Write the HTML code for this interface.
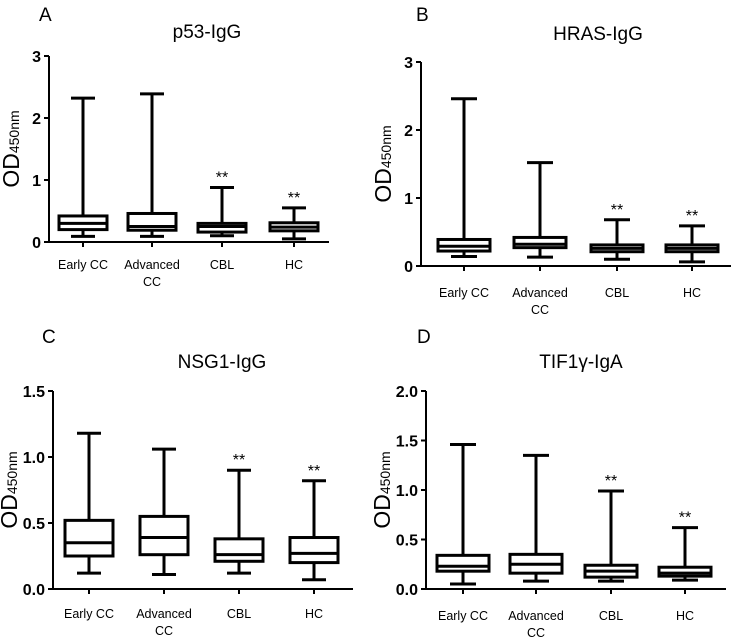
<!DOCTYPE html>
<html><head><meta charset="utf-8"><style>
body{margin:0;background:#fff}
svg text{font-family:"Liberation Sans",sans-serif}
</style></head><body>
<svg id="c" width="736" height="639"></svg>
<script>
const categories=["Early CC","Advanced CC","CBL","HC"];
const starFlags=[false,false,true,true];
const panelLetters=["A","B","C","D"];
const panelTitles=["p53-IgG","HRAS-IgG","NSG1-IgG","TIF1γ-IgA"];
const yTicksA=[0,1,2,3];
const yTicksB=[0,1,2,3];
const yTicksC=["0.0","0.5","1.0","1.5"];
const yTicksD=["0.0","0.5","1.0","1.5","2.0"];
// [min,q1,median,q3,max]
const boxA=[[0.09,0.2,0.3,0.42,2.32],[0.09,0.19,0.25,0.46,2.39],[0.1,0.16,0.25,0.3,0.88],[0.05,0.18,0.24,0.31,0.55]];
const boxB=[[0.14,0.22,0.29,0.39,2.46],[0.13,0.27,0.32,0.42,1.52],[0.1,0.21,0.26,0.31,0.68],[0.06,0.21,0.26,0.31,0.59]];
const boxC=[[0.12,0.25,0.35,0.52,1.18],[0.11,0.26,0.39,0.55,1.06],[0.12,0.21,0.26,0.38,0.9],[0.07,0.2,0.27,0.39,0.82]];
const boxD=[[0.05,0.18,0.23,0.34,1.46],[0.08,0.16,0.25,0.35,1.35],[0.08,0.12,0.18,0.24,0.99],[0.09,0.13,0.16,0.22,0.62]];

const svg=document.getElementById('c');
const NS="http://www.w3.org/2000/svg";
function mk(tag,attrs,parent){const e=document.createElementNS(NS,tag);for(const k in attrs)e.setAttribute(k,attrs[k]);(parent||svg).appendChild(e);return e;}

const panels=[
 {ax:49,y0:242,yTop:56,xEnd:329,yMax:3,centers:[83,152,222,294],half:24,ticks:yTicksA,data:boxA,lx:39,ly:21,tx:207,ty:38,labY:269},
 {ax:421,y0:266,yTop:62,xEnd:731,yMax:3,centers:[464,540,617,692],half:26,ticks:yTicksB,data:boxB,lx:416,ly:21,tx:598,ty:40,labY:297},
 {ax:53,y0:589,yTop:391,xEnd:353,yMax:1.5,centers:[89,164,239,314],half:24,ticks:yTicksC,data:boxC,lx:42,ly:343,tx:222,ty:368,labY:618},
 {ax:426,y0:589,yTop:391,xEnd:726,yMax:2,centers:[463,536,611,685],half:26,ticks:yTicksD,data:boxD,lx:417,ly:343,tx:581,ty:368,labY:620}
];

panels.forEach((p,pi)=>{
 const g=mk('g',{});
 
 
 const y=v=>p.y0-(v/p.yMax)*(p.y0-p.yTop);
 const L=mk('text',{x:p.lx,y:p.ly,'font-size':19},g);L.textContent=panelLetters[pi];
 
 
 const T=mk('text',{x:p.tx,y:p.ty,'font-size':19,'text-anchor':'middle'},g);T.textContent=panelTitles[pi];
 
 
 const ya=mk('line',{x1:p.ax,y1:p.yTop,x2:p.ax,y2:p.y0,stroke:'#000','stroke-width':2},g);
 
 
 const xa=mk('line',{x1:p.ax,y1:p.y0,x2:p.xEnd,y2:p.y0,stroke:'#000','stroke-width':2},g);
 
 
 p.ticks.forEach(t=>{
  const v=parseFloat(t);
  mk('line',{x1:p.ax-5,y1:y(v),x2:p.ax,y2:y(v),stroke:'#000','stroke-width':2},g);
  const tt=mk('text',{x:p.ax-8,y:y(v)+6,'font-size':16,'font-weight':'bold','text-anchor':'end'},g);
  tt.textContent=t;
  
  
 });
 const my=(p.y0+p.yTop)/2;
 const yt=mk('text',{x:0,y:0,'font-size':23,transform:`translate(${p.ax-(pi>=2?36:30)},${my}) rotate(-90)`,'text-anchor':'middle'},g);
 yt.innerHTML='OD<tspan font-size="14">450nm</tspan>';
 
 
 categories.forEach((c,i)=>{
  const cx=p.centers[i],d=p.data[i],h=p.half;
  mk('line',{x1:cx,y1:p.y0,x2:cx,y2:p.y0+5,stroke:'#000','stroke-width':2},g);
  const lab=mk('text',{x:cx,y:p.labY,'font-size':12.5,'text-anchor':'middle'},g);
  if(c==="Advanced CC"){lab.innerHTML=`<tspan x="${cx}">Advanced</tspan><tspan x="${cx}" dy="17">CC</tspan>`;}
  else lab.textContent=c;
  
  
  const bg=mk('g',{stroke:'#000','stroke-width':3,fill:'none'},g);
  
  
  mk('line',{x1:cx,y1:y(d[0]),x2:cx,y2:y(d[1])},bg);
  mk('line',{x1:cx,y1:y(d[3]),x2:cx,y2:y(d[4])},bg);
  mk('line',{x1:cx-h/2,y1:y(d[0]),x2:cx+h/2,y2:y(d[0])},bg);
  mk('line',{x1:cx-h/2,y1:y(d[4]),x2:cx+h/2,y2:y(d[4])},bg);
  mk('rect',{x:cx-h,y:y(d[3]),width:2*h,height:y(d[1])-y(d[3])},bg);
  mk('line',{x1:cx-h,y1:y(d[2]),x2:cx+h,y2:y(d[2])},bg);
  if(starFlags[i]){
   const s=mk('text',{x:cx,y:y(d[4])-5,'font-size':16,'text-anchor':'middle'},g);
   s.textContent='**';
   
   
  }
 });
});
</script>
</body></html>
